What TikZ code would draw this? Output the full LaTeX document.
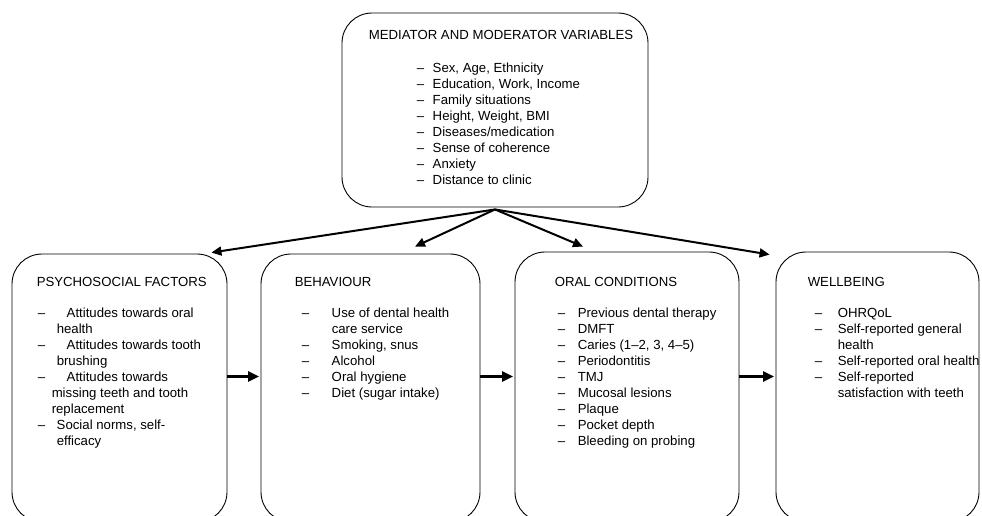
\documentclass[tikz,border=0pt]{standalone}
\usepackage{fontspec}
\setmainfont{Liberation Sans}
\usetikzlibrary{arrows.meta, positioning}
\tikzset{%
  base/.style = {rectangle, draw = black, rounded corners = 30pt, line width = 0.9pt, inner sep = 0pt},
  heading/.style = {anchor = base west, inner sep = 0pt, font = \fontsize{13.2}{16}\selectfont},
  items/.style = {anchor = base west, inner sep = 0pt, font = \fontsize{13.2}{16}\selectfont},
  diag/.style = {-{Triangle[length=10pt, width=9pt]}, line width = 2pt},
  flow/.style = {-{Triangle[length=11pt, width=10pt]}, line width = 2.6pt, shorten >= 1.5pt}
}

\begin{document}
\begin{tikzpicture}[x=1pt, y=-1pt]
    \useasboundingbox (0,0) rectangle (982,515);
    \clip (0,0) rectangle (982,515);
    % boxes
    \node[base, minimum width = 306pt, minimum height = 194pt] at (495, 110) (Mediator) {};
    \node[base, minimum width = 215pt, minimum height = 268pt] at (119.5, 388) (Psychosocial) {};
    \node[base, minimum width = 219pt, minimum height = 268pt] at (370.5, 388) (Behaviour) {};
    \node[base, minimum width = 224pt, minimum height = 270pt] at (627, 387) (OralCond) {};
    \node[base, minimum width = 203pt, minimum height = 270pt] at (877.5, 387) (Wellbeing) {};
    % texts
    \node[heading, anchor = base] at ([xshift=6pt, yshift=-26.7pt]Mediator.north) (MediatorLabel) {MEDIATOR AND MODERATOR VARIABLES};
    \node[items] at ([shift={(75pt,-59.7pt)}]Mediator.north west) (MediatorList) {%
      \begin{tabular}[t]{@{}p{16pt}@{}l@{}}
        -- & Sex, Age, Ethnicity\\
        -- & Education, Work, Income\\
        -- & Family situations\\
        -- & Height, Weight, BMI\\
        -- & Diseases/medication\\
        -- & Sense of coherence\\
        -- & Anxiety\\
        -- & Distance to clinic
      \end{tabular}};
    \node[heading] at ([shift={(25pt,-32.7pt)}]Psychosocial.north west) (PsychosocialLabel) {PSYCHOSOCIAL FACTORS};
    \node[items] at ([shift={(26pt,-63.5pt)}]Psychosocial.north west) (PsychosocialList) {%
      \begin{tabular}[t]{@{}p{19pt}@{}l@{}}
        -- & \hspace{10pt}Attitudes towards oral\\
           & health\\
        -- & \hspace{10pt}Attitudes towards tooth\\
           & brushing\\
        -- & \hspace{10pt}Attitudes towards\\
           & \hspace{-5pt}missing teeth and tooth\\
           & \hspace{-5pt}replacement\\
        -- & Social norms, self-\\
           & efficacy
      \end{tabular}};
    \node[heading] at ([shift={(34pt,-32.7pt)}]Behaviour.north west) (BehaviourLabel) {BEHAVIOUR};
    \node[items] at ([shift={(41pt,-63.5pt)}]Behaviour.north west) (BehaviourList) {%
      \begin{tabular}[t]{@{}p{30pt}@{}l@{}}
        -- & Use of dental health\\
           & care service\\
        -- & Smoking, snus\\
        -- & Alcohol\\
        -- & Oral hygiene\\
        -- & Diet (sugar intake)
      \end{tabular}};
    \node[heading] at ([shift={(40pt,-34.7pt)}]OralCond.north west) (OralCondLabel) {ORAL CONDITIONS};
    \node[items] at ([shift={(43pt,-65.5pt)}]OralCond.north west) (OralCondList) {%
      \begin{tabular}[t]{@{}p{20pt}@{}l@{}}
        -- & Previous dental therapy\\
        -- & DMFT\\
        -- & Caries (1--2, 3, 4--5)\\
        -- & Periodontitis\\
        -- & TMJ\\
        -- & Mucosal lesions\\
        -- & Plaque\\
        -- & Pocket depth\\
        -- & Bleeding on probing
      \end{tabular}};
    \node[heading] at ([shift={(32pt,-34.7pt)}]Wellbeing.north west) (WellbeingLabel) {WELLBEING};
    \node[items] at ([shift={(39pt,-65.5pt)}]Wellbeing.north west) (WellbeingList) {%
      \begin{tabular}[t]{@{}p{23pt}@{}l@{}}
        -- & OHRQoL\\
        -- & Self-reported general\\
           & health\\
        -- & Self-reported oral health\\
        -- & Self-reported\\
           & satisfaction with teeth
      \end{tabular}};
    % arrows
    \coordinate (Hub) at ([yshift=-2pt]Mediator.south);
    \draw[diag] (Hub) -- ([xshift=-16pt, yshift=1pt]Psychosocial.north east);
    \draw[diag] (Hub) -- ([xshift=44.5pt, yshift=7pt]Behaviour.north);
    \draw[diag] (Hub) -- ([xshift=-44pt, yshift=5pt]OralCond.north);
    \draw[diag] (Hub) -- ([xshift=-6pt, yshift=-3pt]Wellbeing.north west);
    \coordinate (Row) at (0, 376.5);
    \draw[flow] (Psychosocial.east |- Row) -- (Behaviour.west |- Row);
    \draw[flow] (Behaviour.east |- Row) -- (OralCond.west |- Row);
    \draw[flow] (OralCond.east |- Row) -- (Wellbeing.west |- Row);
\end{tikzpicture}
\end{document}
